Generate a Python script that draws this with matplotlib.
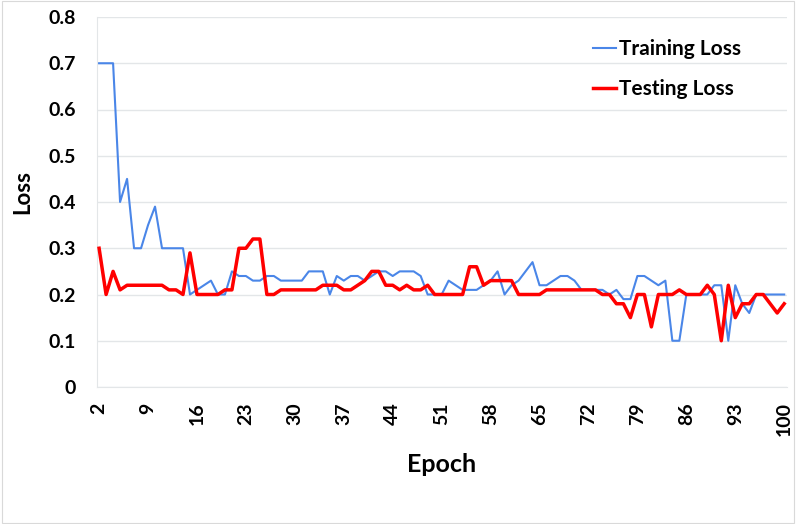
import matplotlib
matplotlib.use("Agg")
import matplotlib.pyplot as plt
from matplotlib.patches import Rectangle

epochs = list(range(2, 101))

training_loss = [
    0.70, 0.70, 0.70, 0.40, 0.45, 0.30, 0.30, 0.35, 0.39, 0.30,   # 2-11
    0.30, 0.30, 0.30, 0.20, 0.21, 0.22, 0.23, 0.20, 0.20, 0.25,   # 12-21
    0.24, 0.24, 0.23, 0.23, 0.24, 0.24, 0.23, 0.23, 0.23, 0.23,   # 22-31
    0.25, 0.25, 0.25, 0.20, 0.24, 0.23, 0.24, 0.24, 0.23, 0.24,   # 32-41
    0.25, 0.25, 0.24, 0.25, 0.25, 0.25, 0.24, 0.20, 0.20, 0.20,   # 42-51
    0.23, 0.22, 0.21, 0.21, 0.21, 0.22, 0.23, 0.25, 0.20, 0.22,   # 52-61
    0.23, 0.25, 0.27, 0.22, 0.22, 0.23, 0.24, 0.24, 0.23, 0.21,   # 62-71
    0.21, 0.21, 0.21, 0.20, 0.21, 0.19, 0.19, 0.24, 0.24, 0.23,   # 72-81
    0.22, 0.23, 0.10, 0.10, 0.20, 0.20, 0.20, 0.20, 0.22, 0.22,   # 82-91
    0.10, 0.22, 0.18, 0.16, 0.20, 0.20, 0.20, 0.20, 0.20,         # 92-100
]

testing_loss = [
    0.30, 0.20, 0.25, 0.21, 0.22, 0.22, 0.22, 0.22, 0.22, 0.22,   # 2-11
    0.21, 0.21, 0.20, 0.29, 0.20, 0.20, 0.20, 0.20, 0.21, 0.21,   # 12-21
    0.30, 0.30, 0.32, 0.32, 0.20, 0.20, 0.21, 0.21, 0.21, 0.21,   # 22-31
    0.21, 0.21, 0.22, 0.22, 0.22, 0.21, 0.21, 0.22, 0.23, 0.25,   # 32-41
    0.25, 0.22, 0.22, 0.21, 0.22, 0.21, 0.21, 0.22, 0.20, 0.20,   # 42-51
    0.20, 0.20, 0.20, 0.26, 0.26, 0.22, 0.23, 0.23, 0.23, 0.23,   # 52-61
    0.20, 0.20, 0.20, 0.20, 0.21, 0.21, 0.21, 0.21, 0.21, 0.21,   # 62-71
    0.21, 0.21, 0.20, 0.20, 0.18, 0.18, 0.15, 0.20, 0.20, 0.13,   # 72-81
    0.20, 0.20, 0.20, 0.21, 0.20, 0.20, 0.20, 0.22, 0.20, 0.10,   # 82-91
    0.22, 0.15, 0.18, 0.18, 0.20, 0.20, 0.18, 0.16, 0.18,         # 92-100
]

xtick_labels = [2, 9, 16, 23, 30, 37, 44, 51, 58, 65, 72, 79, 86, 93, 100]
ytick_values = [0, 0.1, 0.2, 0.3, 0.4, 0.5, 0.6, 0.7, 0.8]

FONT = "Lato"
plt.rcParams["font.family"] = [FONT, "DejaVu Sans"]

fig = plt.figure(figsize=(7.96, 5.24), dpi=100)
fig.patch.set_facecolor("white")
fig.add_artist(Rectangle((0.002, 0.002), 0.996, 0.996, transform=fig.transFigure,
                         fill=False, edgecolor="#d9d9d9", linewidth=0.8))

ax = fig.add_axes([97 / 796, 1 - 387 / 524, (787 - 97) / 796, (387 - 17) / 524])

ax.plot(epochs, training_loss, color="#4a86e8", linewidth=1.5, label="Training Loss", zorder=3)
ax.plot(epochs, testing_loss, color="#ff0000", linewidth=2.5, label="Testing Loss", zorder=4)

ax.set_xlim(1.7, 100.4)
ax.set_ylim(0, 0.8)
ax.set_yticks(ytick_values)
ax.set_yticklabels(["0" if v == 0 else f"{v:.1f}" for v in ytick_values],
                   fontsize=14, fontweight="bold")
ax.set_xticks(xtick_labels)
ax.set_xticklabels([str(v) for v in xtick_labels], rotation=90,
                   fontsize=14, fontweight="bold")
ax.tick_params(axis="y", length=0, pad=15, colors="black")
ax.tick_params(axis="x", length=0, pad=11, colors="black")

ax.grid(axis="y", color="#e3e6e8", linewidth=1.0)
ax.set_axisbelow(True)
for side in ["top", "right"]:
    ax.spines[side].set_visible(False)
ax.spines["left"].set_color("#e3e6e8")
ax.spines["bottom"].set_color("#e3e6e8")

ax.set_xlabel("Epoch", fontsize=18, fontweight="bold", labelpad=12)
ax.set_ylabel("Loss", fontsize=16, fontweight="bold")
ax.yaxis.set_label_coords(-0.092, 0.527)

leg = ax.legend(loc="upper right", bbox_to_anchor=(0.96, 0.99), frameon=False,
                prop={"family": FONT, "weight": "bold", "size": 15},
                handlelength=1.1, handletextpad=0.15, labelspacing=0.95)

fig.savefig("out.png", dpi=100, facecolor="white")
